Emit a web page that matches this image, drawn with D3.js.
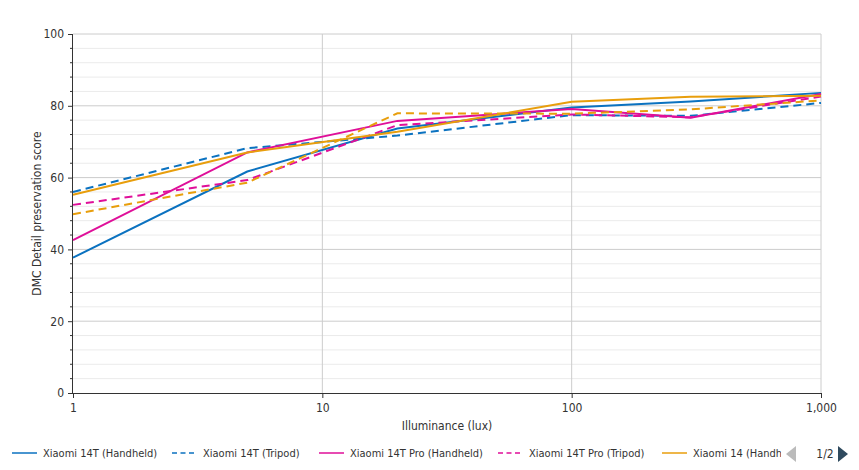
<!DOCTYPE html>
<html>
<head>
<meta charset="utf-8">
<script src="https://cdn.jsdelivr.net/npm/d3@7"></script>
<style>
  body { margin: 0; background: #fff; }
  svg text { font-family: "DejaVu Sans", Tahoma, sans-serif; fill: #333; }
</style>
</head>
<body>
<div id="chart"></div>
<script>
// lux levels measured
var luxLevels = [1, 5, 20, 100, 300, 1000];

var seriesNames = [
  "Xiaomi 14T (Handheld)",
  "Xiaomi 14T (Tripod)",
  "Xiaomi 14T Pro (Handheld)",
  "Xiaomi 14T Pro (Tripod)",
  "Xiaomi 14 (Handheld)",
  "Xiaomi 14 (Tripod)"
];

var mi14tHandheld    = [37.7, 61.7, 73.7, 79.5, 81.2, 83.6];
var mi14tTripod      = [56.0, 68.2, 71.7, 77.4, 77.2, 80.8];
var mi14tProHandheld = [42.6, 67.0, 75.8, 79.1, 76.7, 83.3];
var mi14tProTripod   = [52.4, 59.3, 74.6, 77.6, 76.8, 82.6];
var mi14Handheld     = [55.2, 67.0, 72.8, 81.1, 82.5, 82.8];
var mi14Tripod       = [49.8, 58.6, 77.9, 77.8, 79.0, 81.5];

var allValues = [mi14tHandheld, mi14tTripod, mi14tProHandheld, mi14tProTripod, mi14Handheld, mi14Tripod];
var colors = ["#0b72c0", "#0b72c0", "#df0f99", "#df0f99", "#e89e0c", "#e89e0c"];
var dashed = [false, true, false, true, false, true];

var xTicks = [1, 10, 100, 1000];
var yTicks = [0, 20, 40, 60, 80, 100];

var margin = {top: 34, right: 38, bottom: 77, left: 73},
    width = 859 - margin.left - margin.right,
    height = 470 - margin.top - margin.bottom;

var svg = d3.select("#chart").append("svg")
    .attr("width", 859)
    .attr("height", 470);

var g = svg.append("g")
    .attr("transform", "translate(" + margin.left + "," + margin.top + ")");

var x = d3.scaleLog().domain([1, 1000]).range([0, width]);
var y = d3.scaleLinear().domain([0, 100]).range([height, 0]);

// minor grid every 4
g.append("g").selectAll("line")
  .data(d3.range(0, 101, 4).filter(function(d) { return d % 20 != 0; }))
  .enter().append("line")
  .attr("x1", 0).attr("x2", width)
  .attr("y1", function(d) { return y(d); })
  .attr("y2", function(d) { return y(d); })
  .style("stroke", "#ebebeb");

// major grid
g.append("g").selectAll("line")
  .data(yTicks.slice(1))
  .enter().append("line")
  .attr("x1", 0).attr("x2", width)
  .attr("y1", function(d) { return y(d); })
  .attr("y2", function(d) { return y(d); })
  .style("stroke", "#cccccc");

g.append("g").selectAll("line")
  .data(xTicks.slice(1))
  .enter().append("line")
  .attr("x1", function(d) { return x(d); })
  .attr("x2", function(d) { return x(d); })
  .attr("y1", 0).attr("y2", height)
  .style("stroke", "#cccccc");

// y axis
var yAxis = g.append("g")
  .attr("class", "axis axis--y")
  .call(d3.axisLeft(y).tickValues(yTicks).tickSize(5).tickPadding(4));

yAxis.append("g").selectAll("line")
  .data(d3.range(0, 101, 4).filter(function(d) { return d % 20 != 0; }))
  .enter().append("line")
  .attr("x1", -3).attr("x2", 0)
  .attr("y1", function(d) { return y(d); })
  .attr("y2", function(d) { return y(d); })
  .style("stroke", "#333");

// x axis
var xAxis = g.append("g")
  .attr("class", "axis axis--x")
  .attr("transform", "translate(0," + height + ")")
  .call(d3.axisBottom(x).tickValues(xTicks).tickFormat(d3.format(",")).tickSize(5).tickPadding(5));

svg.selectAll(".axis path").style("stroke", "#333").attr("d", function() {
  return d3.select(this.parentNode).classed("axis--x") ? "M0,0.5H" + width : "M-0.5,0V" + height;
});
svg.selectAll(".axis .tick line").style("stroke", "#333");
svg.selectAll(".axis text").style("font-size", "12px").style("fill", "#333")
  .style("font-family", "'DejaVu Sans Condensed', 'DejaVu Sans', sans-serif");

g.append("text")
  .attr("x", width / 2)
  .attr("y", height + 37)
  .attr("text-anchor", "middle")
  .style("font-size", "12px")
  .style("font-family", "'DejaVu Sans Condensed', 'DejaVu Sans', sans-serif")
  .text("Illuminance (lux)");

g.append("text")
  .attr("transform", "rotate(-90)")
  .attr("x", -height / 2)
  .attr("y", -32)
  .attr("text-anchor", "middle")
  .style("font-size", "12px")
  .style("font-family", "'DejaVu Sans Condensed', 'DejaVu Sans', sans-serif")
  .text("DMC Detail preservation score");

// lines
var line = d3.line()
  .x(function(d, i) { return x(luxLevels[i]); })
  .y(function(d) { return y(d); });

g.append("g").selectAll("path")
  .data(allValues)
  .enter().append("path")
  .attr("d", line)
  .style("fill", "none")
  .style("stroke", function(d, i) { return colors[i]; })
  .style("stroke-width", 2)
  .style("stroke-dasharray", function(d, i) { return dashed[i] ? "8,5" : null; });

// legend (page 1 of 2)
svg.append("defs").append("clipPath").attr("id", "legclip")
  .append("rect").attr("x", 0).attr("y", 435).attr("width", 781).attr("height", 35);

var legendX = [12, 172, 319, 498, 662];
var legend = svg.append("g").attr("clip-path", "url(#legclip)");
var items = legend.selectAll("g")
  .data(seriesNames.slice(0, 5))
  .enter().append("g")
  .attr("transform", function(d, i) { return "translate(" + legendX[i] + ",453)"; });

items.append("line")
  .attr("x1", 0).attr("x2", 25)
  .attr("y1", 0).attr("y2", 0)
  .style("stroke", function(d, i) { return colors[i]; })
  .style("stroke-width", 1.5)
  .style("stroke-dasharray", function(d, i) { return dashed[i] ? "5,3.5" : null; });

items.append("text")
  .attr("x", 31)
  .attr("y", 4)
  .style("font-size", "11px")
  .style("font-family", "'DejaVu Sans Condensed', 'DejaVu Sans', sans-serif")
  .text(function(d) { return d; });

// pager
svg.append("path").attr("d", "M796,446L786,454L796,462Z").style("fill", "#bbbbbb");
svg.append("path").attr("d", "M838,446L848,454L838,462Z").style("fill", "#2f4a5e");
svg.append("text").attr("x", 825).attr("y", 458).attr("text-anchor", "middle")
  .style("font-size", "12px")
  .style("font-family", "'DejaVu Sans Condensed', 'DejaVu Sans', sans-serif")
  .text("1/2");
</script>
</body>
</html>
